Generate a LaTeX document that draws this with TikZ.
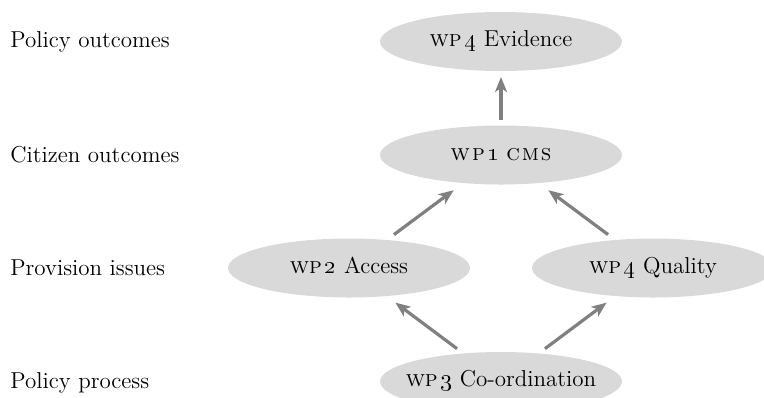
\documentclass[tikz,border=0pt]{standalone}
\usetikzlibrary{arrows.meta,shapes.geometric}
\definecolor{ellfill}{RGB}{217,217,217}
\definecolor{arrgray}{RGB}{128,128,128}
\newcommand{\wpn}[1]{\textsc{wp}\kern0.12em\oldstylenums{#1}}
\newcommand{\fixw}[1]{\makebox[0pt][c]{#1}}
\tikzset{
  wpnode/.style={ellipse, fill=ellfill, draw=none, inner sep=0pt, outer sep=0pt,
    minimum width=121pt, minimum height=29.5pt, text height=0.72em, text depth=0.22em},
  rowlabel/.style={anchor=base west, inner sep=0pt},
  flow/.style={draw=arrgray, line width=1.6pt, -{Stealth[length=7.5pt,width=6pt,inset=2pt]}}
}
\begin{document}
\begin{tikzpicture}[x=0.5pt,y=-0.5pt,font=\fontsize{11.5pt}{13pt}\selectfont]
\clip (0,0) rectangle (764,397);
\node[rowlabel] (l1) at (10,47) {Policy outcomes};
\node[rowlabel] (l2) at (10,162) {Citizen outcomes};
\node[rowlabel] (l3) at (10,275) {Provision issues};
\node[rowlabel] (l4) at (10,388) {Policy process};

\node[wpnode] (ev) at (501,41.5) {\fixw{\wpn{4} Evidence}};
\node[wpnode] (cms) at (501,155) {\fixw{\textsc{w\kern0.1em p\kern0.12em\oldstylenums{1}\kern0.3em c\kern0.08em m\kern0.08em s}}};
\node[wpnode] (acc) at (349,268) {\fixw{\wpn{2} Access}};
\node[wpnode] (qual) at (653,268) {\fixw{\wpn{4} Quality}};
\node[wpnode] (coord) at (501,381.5) {\fixw{\wpn{3} Co-ordination}};

\draw[flow, shorten <=2.8pt, shorten >=3pt] (cms) -- (ev);
\draw[flow, shorten <=4.5pt, shorten >=6pt] (acc) -- (cms);
\draw[flow, shorten <=4.5pt, shorten >=6pt] (qual) -- (cms);
\draw[flow, shorten <=4pt, shorten >=5.5pt] (coord) -- (acc);
\draw[flow, shorten <=4pt, shorten >=5.5pt] (coord) -- (qual);
\end{tikzpicture}
\end{document}
